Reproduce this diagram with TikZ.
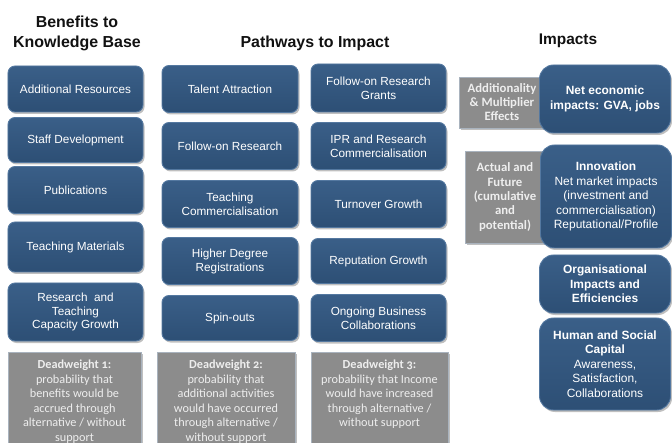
\documentclass[tikz,border=0pt]{standalone}
\usepackage{fontspec}
\setmainfont{Liberation Sans}
\newfontfamily\calfont[Numbers=OldStyle]{Carlito}
\usetikzlibrary{shadows}

\definecolor{blueTop}{HTML}{3A5F88}
\definecolor{blueBot}{HTML}{2D4F75}
\definecolor{blueEdge}{HTML}{5478A0}
\definecolor{greyFill}{HTML}{8C8C8C}
\definecolor{greyEdge}{HTML}{A9B3BE}
\definecolor{greyText}{HTML}{EEEEEE}
\definecolor{titleText}{HTML}{111111}

\tikzset{
  bluebox/.style={rectangle, rounded corners=7bp, draw=blueEdge, line width=0.9bp,
    top color=blueTop, bottom color=blueBot, text=white, align=center,
    font=\fontsize{11.8}{14}\selectfont, inner sep=2bp,
    drop shadow={shadow xshift=1.5bp, shadow yshift=-2bp, opacity=0.5}},
  colA/.style={bluebox, minimum width=135bp},
  colB/.style={bluebox, minimum width=136bp},
  impactbox/.style={bluebox, rounded corners=14bp, minimum width=131bp,
    font=\fontsize{12}{14.6}\selectfont},
  greybox/.style={rectangle, fill=greyFill, draw=greyEdge, line width=0.9bp,
    drop shadow={shadow xshift=1.5bp, shadow yshift=-2bp, opacity=0.5}},
  greytext/.style={text=greyText, align=center, inner sep=0pt,
    font=\calfont\fontsize{12.3}{14.5}\selectfont},
  heading/.style={text=titleText, align=center, font=\bfseries\fontsize{16}{20}\selectfont}
}

\begin{document}
\begin{tikzpicture}[x=1bp,y=-1bp]
\useasboundingbox (0,0) rectangle (672,443);
\clip (0,0) rectangle (672,443);

% column headings
\node[heading] (hA) at (77,33) {Benefits to\\Knowledge Base};
\node[heading] (hB) at (315,43) {Pathways to Impact};
\node[heading, font=\bfseries\fontsize{15.5}{20}\selectfont] (hC) at (568,41) {Impacts};

% benefits to the knowledge base
\node[colA, minimum height=46bp] (b1) at (75.5,89)  {Additional Resources};
\node[colA, minimum height=45bp] (b2) at (75.5,140) {Staff Development};
\node[colA, minimum height=47bp] (b3) at (75.5,190) {Publications};
\node[colA, minimum height=50bp] (b4) at (75.5,247) {Teaching Materials};
\node[colA, minimum height=58bp] (b5) at (75.5,312) {Research~ and\\Teaching\\Capacity Growth};

% pathways, first column
\node[colB, minimum height=47bp] (p1) at (230,89)  {Talent Attraction};
\node[colB, minimum height=47bp] (p2) at (230,146) {Follow-on Research};
\node[colB, minimum height=47bp] (p3) at (230,204) {Teaching\\Commercialisation};
\node[colB, minimum height=47bp] (p4) at (230,261) {Higher Degree\\Registrations};
\node[colB, minimum height=45bp] (p5) at (230,318) {Spin-outs};

% pathways, second column
\node[colA, minimum height=48bp] (q1) at (378.5,88)  {Follow-on Research\\Grants};
\node[colA, minimum height=47bp] (q2) at (378.5,146) {IPR and Research\\Commercialisation};
\node[colA, minimum height=47bp] (q3) at (378.5,204) {Turnover Growth};
\node[colA, minimum height=45bp] (q4) at (378.5,261) {Reputation Growth};
\node[colA, minimum height=47bp] (q5) at (378.5,318) {Ongoing Business\\Collaborations};

% deadweight boxes
\node[greybox, anchor=north, minimum width=133bp, minimum height=110bp] (d1) at (74.5,352) {};
\node[greybox, anchor=north, minimum width=138bp, minimum height=110bp] (d2) at (226,352) {};
\node[greybox, anchor=north, minimum width=137bp, minimum height=110bp] (d3) at (379.5,352) {};
\node[greytext, anchor=north] (d1t) at ([yshift=-8bp]d1.north)
  {\textbf{Deadweight 1:}\\probability that\\benefits would be\\accrued through\\alternative / without\\support};
\node[greytext, anchor=north] (d2t) at ([yshift=-8bp]d2.north)
  {\textbf{Deadweight 2:}\\probability that\\additional activities\\would have occurred\\through alternative /\\without support};
\node[greytext, anchor=north] (d3t) at ([yshift=-8bp]d3.north)
  {\textbf{Deadweight 3:}\\probability that Income\\would have increased\\through alternative /\\without support};

% impacts with their qualifying factors
\node[greybox, minimum width=90bp, minimum height=51bp] (g1) at (504,102.5) {};
\node[greybox, minimum width=84bp, minimum height=92bp] (g2) at (507,197) {};
\node[greytext, font=\calfont\bfseries\fontsize{12.8}{14}\selectfont] (g1t) at (502,102)
  {Additionality\\\& Multiplier\\Effects};
\node[greytext, font=\calfont\bfseries\fontsize{12.8}{14.5}\selectfont] (g2t) at (505,197)
  {Actual and\\Future\\(cumulative\\and\\potential)};

\node[impactbox, minimum height=68bp] (i1) at (605,99)
  {\bfseries Net economic\\\bfseries impacts: GVA, jobs};
\node[impactbox, minimum height=103bp] (i2) at (606,196.5)
  {\textbf{Innovation}\\Net market impacts\\(investment and\\commercialisation)\\Reputational/Profile};
\node[impactbox, minimum height=58bp] (i3) at (605,284)
  {\bfseries Organisational\\\bfseries Impacts and\\\bfseries Efficiencies};
\node[impactbox, minimum height=92bp] (i4) at (605,364)
  {\textbf{Human and Social}\\\textbf{Capital}\\Awareness,\\Satisfaction,\\Collaborations};
\end{tikzpicture}
\end{document}
